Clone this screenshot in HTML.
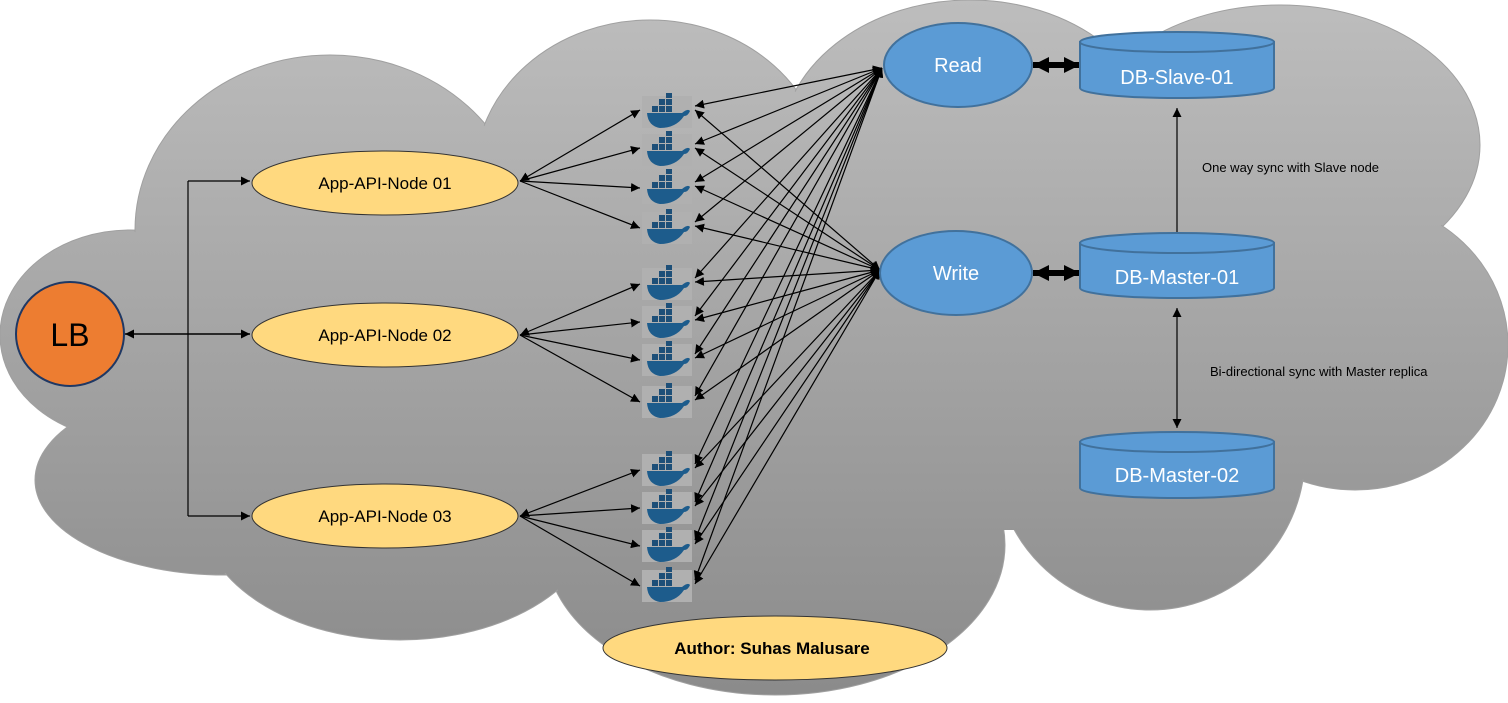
<!DOCTYPE html>
<html><head><meta charset="utf-8"><style>html,body{margin:0;padding:0;background:#fff}svg{display:block}text{font-family:"Liberation Sans",sans-serif}</style></head><body>
<svg width="1508" height="703" viewBox="0 0 1508 703" xmlns="http://www.w3.org/2000/svg">
<defs>
<linearGradient id="g" x1="0" y1="0" x2="0" y2="703" gradientUnits="userSpaceOnUse"><stop offset="0" stop-color="#bdbdbd"/><stop offset="1" stop-color="#8a8a8a"/></linearGradient>
<marker id="a" viewBox="0 0 10 10" refX="10" refY="5" markerWidth="9" markerHeight="9" orient="auto-start-reverse" markerUnits="userSpaceOnUse"><path d="M0,0L10,5L0,10z" fill="#000"/></marker>
<marker id="b" viewBox="0 0 10 10" refX="10" refY="5" markerWidth="16" markerHeight="16" orient="auto-start-reverse" markerUnits="userSpaceOnUse"><path d="M0,0L10,5L0,10z" fill="#000"/></marker>
<g id="d"><rect x="0" y="0" width="50" height="32" fill="#b0b0b0"/><path d="M5,17 H40 Q46,12 48,15 Q46,20 42,20 Q34,32 18,32 Q6,30 5,17z" fill="#1d5c8c"/><rect x="10" y="10" width="6" height="6" fill="#1d4f78"/><rect x="17" y="10" width="6" height="6" fill="#1d4f78"/><rect x="24" y="10" width="6" height="6" fill="#1d4f78"/><rect x="17" y="3" width="6" height="6" fill="#1d4f78"/><rect x="24" y="3" width="6" height="6" fill="#1d4f78"/><rect x="24" y="-3" width="6" height="5" fill="#1d4f78"/></g>
</defs>
<g fill="url(#g)" stroke="#a0a0a0" stroke-width="1">
<ellipse cx="130" cy="335" rx="130" ry="105"/>
<ellipse cx="225" cy="480" rx="190" ry="95"/>
<ellipse cx="330" cy="230" rx="195" ry="175"/>
<ellipse cx="650" cy="175" rx="175" ry="155"/>
<ellipse cx="970" cy="150" rx="190" ry="150"/>
<ellipse cx="1280" cy="145" rx="200" ry="140"/>
<ellipse cx="1355" cy="345" rx="153" ry="145"/>
<ellipse cx="1150" cy="455" rx="155" ry="155"/>
<ellipse cx="775" cy="545" rx="230" ry="150"/>
<ellipse cx="400" cy="510" rx="200" ry="130"/>
</g>
<g fill="url(#g)">
<ellipse cx="130" cy="335" rx="128" ry="103"/>
<ellipse cx="225" cy="480" rx="188" ry="93"/>
<ellipse cx="330" cy="230" rx="193" ry="173"/>
<ellipse cx="650" cy="175" rx="173" ry="153"/>
<ellipse cx="970" cy="150" rx="188" ry="148"/>
<ellipse cx="1280" cy="145" rx="198" ry="138"/>
<ellipse cx="1355" cy="345" rx="151" ry="143"/>
<ellipse cx="1150" cy="455" rx="153" ry="153"/>
<ellipse cx="775" cy="545" rx="228" ry="148"/>
<ellipse cx="400" cy="510" rx="198" ry="128"/>
<rect x="200" y="150" width="1080" height="380"/>
</g>
<g>
<use href="#d" x="642" y="96"/><use href="#d" x="642" y="134"/><use href="#d" x="642" y="172"/><use href="#d" x="642" y="212"/>
<use href="#d" x="642" y="268"/><use href="#d" x="642" y="306"/><use href="#d" x="642" y="344"/><use href="#d" x="642" y="386"/>
<use href="#d" x="642" y="454"/><use href="#d" x="642" y="492"/><use href="#d" x="642" y="530"/><use href="#d" x="642" y="570"/>
</g>
<g stroke="#000" stroke-width="1.2" fill="none">
<path d="M125,334 H250" marker-start="url(#a)" marker-end="url(#a)" stroke-width="1.6"/>
<path d="M188,181 V516"/>
<path d="M188,181 H250" marker-end="url(#a)"/>
<path d="M188,516 H250" marker-end="url(#a)"/>
<path d="M520,181 L640,110" marker-start="url(#a)" marker-end="url(#a)"/>
<path d="M520,181 L640,148" marker-end="url(#a)"/>
<path d="M520,181 L640,188" marker-end="url(#a)"/>
<path d="M520,181 L640,228" marker-end="url(#a)"/>
<path d="M520,335 L640,284" marker-start="url(#a)" marker-end="url(#a)"/>
<path d="M520,335 L640,322" marker-end="url(#a)"/>
<path d="M520,335 L640,360" marker-end="url(#a)"/>
<path d="M520,335 L640,402" marker-end="url(#a)"/>
<path d="M520,516 L640,470" marker-start="url(#a)" marker-end="url(#a)"/>
<path d="M520,516 L640,508" marker-end="url(#a)"/>
<path d="M520,516 L640,546" marker-end="url(#a)"/>
<path d="M520,516 L640,586" marker-end="url(#a)"/>
<g marker-start="url(#a)" marker-end="url(#a)">
<path d="M882,68 L695,106"/><path d="M882,68 L695,144"/><path d="M882,68 L695,182"/><path d="M882,68 L695,222"/>
<path d="M882,68 L695,278"/><path d="M882,68 L695,316"/><path d="M882,68 L695,354"/><path d="M882,68 L695,396"/>
<path d="M882,68 L695,464"/><path d="M882,68 L695,502"/><path d="M882,68 L695,540"/><path d="M882,68 L695,580"/>
</g>
<g marker-start="url(#a)" marker-end="url(#a)">
<path d="M695,110 L880,270"/><path d="M695,148 L880,270"/><path d="M695,186 L880,270"/><path d="M695,226 L880,270"/>
<path d="M695,282 L880,270"/><path d="M695,320 L880,270"/><path d="M695,358 L880,270"/><path d="M695,400 L880,270"/>
<path d="M695,468 L880,270"/><path d="M695,506 L880,270"/><path d="M695,544 L880,270"/><path d="M695,584 L880,270"/>
</g>
<path d="M1033,65 H1080" stroke-width="6" marker-start="url(#b)" marker-end="url(#b)"/>
<path d="M1033,273 H1080" stroke-width="6" marker-start="url(#b)" marker-end="url(#b)"/>
<path d="M1177,232 V108" marker-end="url(#a)"/>
<path d="M1177,308 V428" marker-start="url(#a)" marker-end="url(#a)"/>
</g>
<ellipse cx="70" cy="334" rx="54" ry="52" fill="#ed7d31" stroke="#1f3864" stroke-width="2"/>
<text x="70" y="346" font-size="32" text-anchor="middle" fill="#000">LB</text>
<g fill="#ffd97f" stroke="#333" stroke-width="1">
<ellipse cx="385" cy="183" rx="133" ry="32"/>
<ellipse cx="385" cy="335" rx="133" ry="32"/>
<ellipse cx="385" cy="516" rx="133" ry="32"/>
<ellipse cx="775" cy="648" rx="172" ry="32"/>
</g>
<g font-size="17" text-anchor="middle" fill="#000">
<text x="385" y="189">App-API-Node 01</text>
<text x="385" y="341">App-API-Node 02</text>
<text x="385" y="522">App-API-Node 03</text>
<text x="772" y="654" font-weight="bold">Author: Suhas Malusare</text>
</g>
<g fill="#5b9bd5" stroke="#41719c" stroke-width="2">
<ellipse cx="958" cy="65" rx="74" ry="42"/>
<ellipse cx="956" cy="273" rx="76" ry="42"/>
<path d="M1080,42 V88 A97,10 0 0 0 1274,88 V42 z"/><ellipse cx="1177" cy="42" rx="97" ry="10"/>
<path d="M1080,243 V288 A97,10 0 0 0 1274,288 V243 z"/><ellipse cx="1177" cy="243" rx="97" ry="10"/>
<path d="M1080,442 V488 A97,10 0 0 0 1274,488 V442 z"/><ellipse cx="1177" cy="442" rx="97" ry="10"/>
</g>
<g font-size="20" text-anchor="middle" fill="#fff">
<text x="958" y="72">Read</text>
<text x="956" y="280">Write</text>
<text x="1177" y="84">DB-Slave-01</text>
<text x="1177" y="284">DB-Master-01</text>
<text x="1177" y="482">DB-Master-02</text>
</g>
<g font-size="13" fill="#000">
<text x="1202" y="172">One way sync with Slave node</text>
<text x="1210" y="376">Bi-directional sync with Master replica</text>
</g>
</svg>
</body></html>
